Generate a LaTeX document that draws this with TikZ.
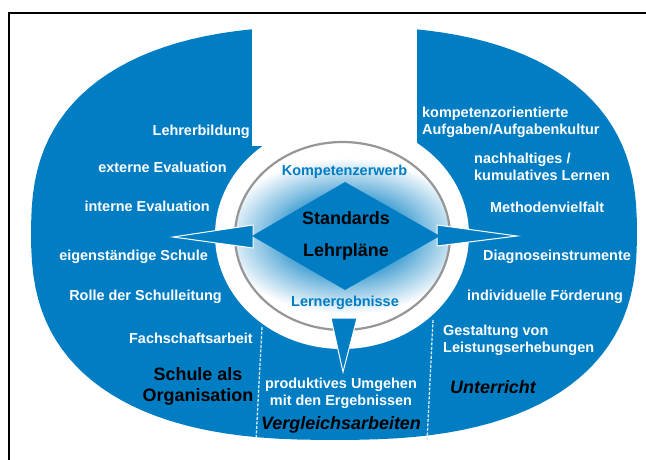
\documentclass[tikz,border=0pt]{standalone}
\usepackage{fontspec}
\setmainfont{Liberation Sans}
\definecolor{cblue}{RGB}{0,125,195}
\definecolor{ringgray}{RGB}{150,150,150}
\pgfdeclareradialshading{centreglow}{\pgfpointorigin}{%
  color(0bp)=(cblue); color(8bp)=(cblue); color(16bp)=(cblue!50!white);
  color(25bp)=(white); color(50bp)=(white)}
\begin{document}
\begin{tikzpicture}[x=1bp,y=-1bp,
  lbl/.style={text=white, font=\fontsize{14.5}{17}\selectfont\bfseries, inner sep=0pt},
  core/.style={text=cblue, font=\fontsize{14.5}{17}\selectfont\bfseries, inner sep=0pt},
  title/.style={text=black, font=\fontsize{18}{21}\selectfont\bfseries, inner sep=0pt},
  ititle/.style={text=black, font=\fontsize{18}{21}\selectfont\bfseries\itshape, inner sep=0pt},
  pointer/.style={fill=cblue, draw=white, line width=1bp, line join=miter},
  divider/.style={draw=white!85!cblue, line width=1.3bp, dash pattern=on 3bp off 1.5bp}]
\useasboundingbox (0,0) rectangle (646,460);
\fill[white] (0,0) rectangle (646,460);

% frame
\draw[line width=1.5bp] (9,460) -- (9,13) -- (646,13);

% outer blue body (superellipse)
\fill[cblue] plot[domain=1:361, samples=121]
  ({334+303*cos(\x)/abs(cos(\x))^0.2}, {233+207*sin(\x)/abs(sin(\x))^0.2}) -- cycle;

% opening at the top and the white centre
\fill[white] (252,20) rectangle (417,146);
\fill[white] (342,235) ellipse [x radius=127, y radius=114];

% glow inside the ring
\begin{scope}
  \clip (342.5,236) ellipse [x radius=107.5, y radius=94];
  \shade[shading=centreglow] (346,236) ellipse [x radius=125, y radius=78];
\end{scope}
\draw[ringgray, line width=2.2bp] (342.5,236) ellipse [x radius=107.5, y radius=94];

% dividers of the bottom segment
\coordinate (dl1) at (262,327); \coordinate (dl2) at (256,440);
\coordinate (dr1) at (433,320); \coordinate (dr2) at (427,442);
\draw[divider] (dl1) -- (dl2);
\draw[divider] (dr1) -- (dr2);

% compass pointers and centre diamond
\fill[pointer] (173,237) -- (253,225) -- (253,248) -- cycle;
\fill[pointer] (517,236) -- (437,225) -- (437,246) -- cycle;
\fill[pointer] (343,372) -- (331,318) -- (357,318) -- cycle;
\fill[cblue] (345,182) -- (440,236) -- (345,290) -- (252,236) -- cycle;

% centre texts
\node[core] (kw) at (344.5,172) {Kompetenzerwerb};
\node[title] (st) at (346,218) {Standards};
\node[title] (lp) at (346,252) {Lehrpläne};
\node[core] (le) at (345,303) {Lernergebnisse};

% left segment
\node[lbl, anchor=east] (l1) at (250,132) {Lehrerbildung};
\node[lbl, anchor=east] (l2) at (227,167) {externe Evaluation};
\node[lbl, anchor=east] (l3) at (210,206) {interne Evaluation};
\node[lbl, anchor=east] (l4) at (208,257) {eigenständige Schule};
\node[lbl, anchor=east] (l5) at (222,297) {Rolle der Schulleitung};
\node[lbl, anchor=east] (l6) at (253,338) {Fachschaftsarbeit};
\node[title, align=center] (lt) at (198,386.5) {Schule als\\Organisation};

% right segment
\node[lbl, anchor=west, align=left] (r1) at (422,122) {kompetenzorientierte\\Aufgaben/Aufgabenkultur};
\node[lbl, anchor=west, align=left] (r2) at (474,166.5) {nachhaltiges /\\kumulatives Lernen};
\node[lbl, anchor=west] (r3) at (490,207) {Methodenvielfalt};
\node[lbl, anchor=west] (r4) at (483,257) {Diagnoseinstrumente};
\node[lbl, anchor=west] (r5) at (467,297) {individuelle Förderung};
\node[lbl, anchor=west, align=left] (r6) at (443,340) {Gestaltung von\\Leistungserhebungen};
\node[ititle, anchor=west] (rt) at (450,387) {Unterricht};

% bottom segment
\node[lbl, align=center] (b1) at (341,393.5) {produktives Umgehen\\mit den Ergebnissen};
\node[ititle] (bt) at (341,425) {Vergleichsarbeiten};
\end{tikzpicture}
\end{document}
